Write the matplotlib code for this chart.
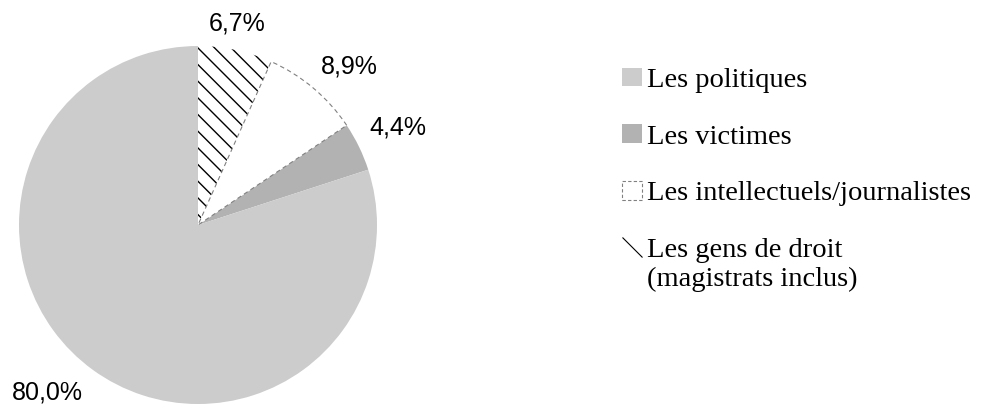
import numpy as np
import matplotlib.pyplot as plt
from matplotlib.patches import Patch
from matplotlib.lines import Line2D
from matplotlib.path import Path

# slices, clockwise from 12 o'clock
labels = ['Les gens de droit\n(magistrats inclus)', 'Les intellectuels/journalistes',
          'Les victimes', 'Les politiques']
values = [6.7, 8.9, 4.4, 80.0]

fig = plt.figure(figsize=(9.84, 4.09), dpi=100)
ax = fig.add_axes([19/984, 5/409, 358/984, 358/409])

wedges, texts, autotexts = ax.pie(
    values, startangle=90, counterclock=False,
    autopct=lambda p: f'{p:.1f}%'.replace('.', ','), pctdistance=1.21,
    textprops={'family': 'Liberation Sans', 'fontsize': 18})
ax.set_xlim(-1, 1)
ax.set_ylim(-1, 1)

# nudge percentage labels (radius factor, angle shift in degrees) like the original
label_pos = [(1.145, 1), (1.225, -3.5), (1.24, 0), (1.26, -6)]
for w, t, (r, da) in zip(wedges, autotexts, label_pos):
    ang = np.deg2rad((w.theta1 + w.theta2) / 2 + da)
    t.set_position((r * np.cos(ang), r * np.sin(ang)))
    t.set_clip_on(False)

# styles
wedges[0].set_facecolor('white'); wedges[0].set_hatch('\\\\'); wedges[0].set_linewidth(0)
wedges[1].set_facecolor('white'); wedges[1].set_edgecolor('#808080')
wedges[1].set_linestyle((0, (4, 3))); wedges[1].set_linewidth(0.8)
wedges[2].set_facecolor('#b2b2b2'); wedges[2].set_linewidth(0)
wedges[3].set_facecolor('#cccccc'); wedges[3].set_linewidth(0)
wedges[1].set_zorder(3)

# diagonal marker, shifted up to sit on first line of the two-line label
a = 1.7
diag = Path([(-1, a + 1), (1, a - 1)])
handles = [
    Patch(facecolor='#cccccc', edgecolor='none'),
    Patch(facecolor='#b2b2b2', edgecolor='none'),
    Patch(facecolor='white', edgecolor='#808080', linestyle=(0, (3, 2)), linewidth=0.8),
    Line2D([], [], ls='none', marker=diag, markersize=14.4 * (a + 1),
           markeredgecolor='black', markeredgewidth=0.8),
]
leg_labels = [labels[3], labels[2], labels[1], labels[0]]
fig.legend(handles, leg_labels, loc='upper left', bbox_to_anchor=(596/984, 1 - 42/409),
           frameon=False, prop={'family': 'Liberation Serif', 'size': 20.5},
           handlelength=0.7, handleheight=0.63, handletextpad=0.2, labelspacing=1.1,
           borderpad=0.4)

fig.savefig('out.png', dpi=100)
